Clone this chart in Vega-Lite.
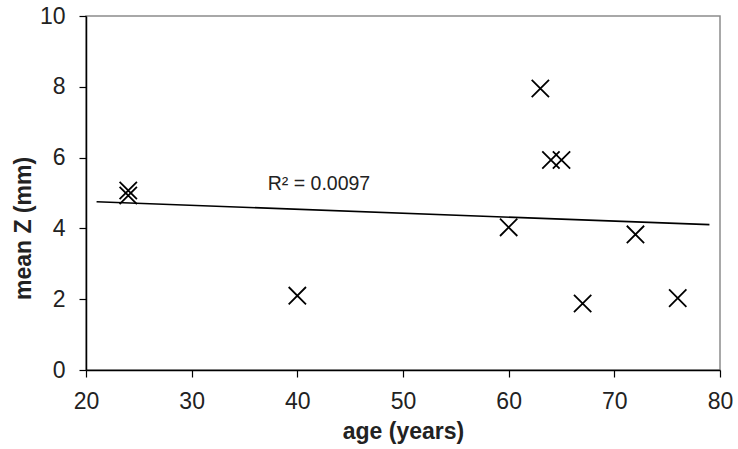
{
  "$schema": "https://vega.github.io/schema/vega-lite/v6.json",
  "autosize": "none",
  "width": 634,
  "height": 354,
  "padding": {"left": 86, "top": 16, "right": 18, "bottom": 79},
  "background": "white",
  "config": {
    "view": {"stroke": "#8c8c8c", "strokeWidth": 1.5},
    "font": "Liberation Sans",
    "axis": {
      "grid": false,
      "domainColor": "#000",
      "domainWidth": 1.5,
      "tickColor": "#000",
      "tickWidth": 1.2,
      "tickSize": 7,
      "labelFlush": false,
      "labelFont": "Liberation Sans",
      "labelFontSize": 23,
      "labelColor": "#222",
      "titleFont": "Liberation Sans",
      "titleFontSize": 23,
      "titleFontWeight": "bold",
      "titleColor": "#222"
    }
  },
  "data": {
    "values": [
      {"age": 24, "z": 5.07},
      {"age": 24, "z": 4.93},
      {"age": 40, "z": 2.1},
      {"age": 60, "z": 4.03},
      {"age": 63, "z": 7.95},
      {"age": 64, "z": 5.93},
      {"age": 65, "z": 5.93},
      {"age": 67, "z": 1.88},
      {"age": 72, "z": 3.83},
      {"age": 76, "z": 2.03}
    ]
  },
  "layer": [
    {
      "transform": [{"regression": "z", "on": "age", "extent": [21, 79]}],
      "mark": {"type": "line", "color": "#000", "strokeWidth": 1.6},
      "encoding": {
        "x": {"field": "age", "type": "quantitative"},
        "y": {"field": "z", "type": "quantitative"}
      }
    },
    {
      "mark": {
        "type": "point",
        "shape": "M-1,-1L1,1M-1,1L1,-1",
        "filled": false,
        "stroke": "#000",
        "strokeWidth": 1.8,
        "size": 300,
        "opacity": 1
      },
      "encoding": {
        "x": {
          "field": "age",
          "type": "quantitative",
          "scale": {"domain": [20, 80], "nice": false, "zero": false},
          "axis": {"values": [20, 30, 40, 50, 60, 70, 80], "title": "age (years)", "labelPadding": 13, "titlePadding": 7}
        },
        "y": {
          "field": "z",
          "type": "quantitative",
          "scale": {"domain": [0, 10], "nice": false},
          "axis": {"values": [0, 2, 4, 6, 8, 10], "title": "mean Z (mm)", "labelPadding": 14, "titlePadding": 4, "titleY": 212}
        }
      }
    },
    {
      "data": {"values": [{"age": 37.2, "z": 5.25, "label": "R² = 0.0097"}]},
      "mark": {"type": "text", "align": "left", "baseline": "middle", "fontSize": 19.5, "font": "Liberation Sans", "color": "#222"},
      "encoding": {
        "x": {"field": "age", "type": "quantitative"},
        "y": {"field": "z", "type": "quantitative"},
        "text": {"field": "label"}
      }
    }
  ]
}
